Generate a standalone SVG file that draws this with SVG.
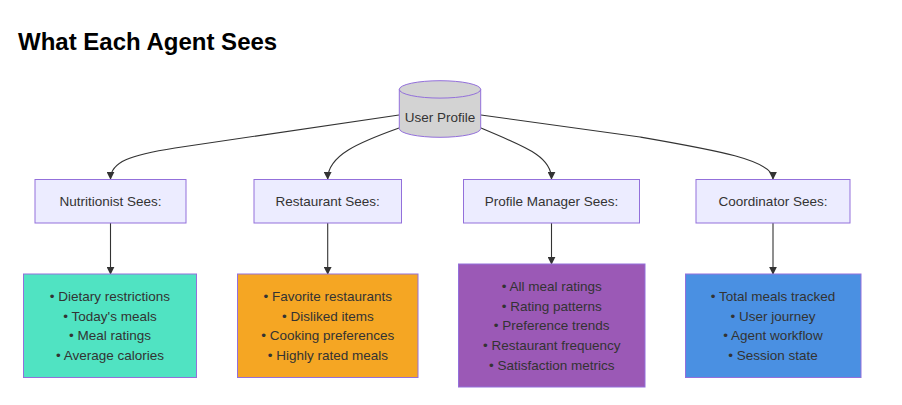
<svg xmlns="http://www.w3.org/2000/svg" width="902" height="405" viewBox="0 0 902 405">
<style>
.t{font-family:"Liberation Sans",Arial,sans-serif;font-size:13.5px;fill:#333;text-anchor:middle;dominant-baseline:central}
.title{font-family:"Liberation Sans",Arial,sans-serif;font-size:24px;font-weight:bold;fill:#000}
.hdr{fill:#ECECFF;stroke:#9370DB;stroke-width:1}
.det{stroke:#9370DB;stroke-width:1}
.e{fill:none;stroke:#333;stroke-width:1.1;marker-end:url(#arr)}
</style>
<defs>
<marker id="arr" viewBox="0 0 10 10" refX="9" refY="5" markerWidth="8" markerHeight="8" markerUnits="userSpaceOnUse" orient="auto">
<path d="M0,0 L10,5 L0,10 z" fill="#333"/>
</marker>
</defs>
<rect width="902" height="405" fill="#fff"/>
<text class="title" x="18" y="50">What Each Agent Sees</text>

<g id="connectors">
<path class="e" d="M399,115 L175,148 C130,155 110.5,162 110.5,179"/>
<path class="e" d="M399,128 C360,142 327.7,155 327.7,179"/>
<path class="e" d="M481,128 C522,146 551.5,155 551.5,179"/>
<path class="e" d="M481,115 L640,137 C715,150 773,160 773,179"/>
<path class="e" d="M110.5,223 L110.5,274"/>
<path class="e" d="M327.7,223 L327.7,274"/>
<path class="e" d="M551.5,223 L551.5,264"/>
<path class="e" d="M773,223 L773,274"/>
</g>

<g id="userProfile">
<path d="M399.3,89.4 A40.7,8.7 0 0 1 480.7,89.4 L480.7,128.6 A40.7,8.7 0 0 1 399.3,128.6 Z" fill="#d3d3d3" stroke="#9370DB" stroke-width="1"/>
<path d="M399.3,89.4 A40.7,8.7 0 0 0 480.7,89.4" fill="none" stroke="#9370DB" stroke-width="1"/>
<text class="t" x="440" y="117">User Profile</text>
</g>

<g id="nutritionist">
<rect class="hdr" x="35" y="179.5" width="151" height="43.5"/>
<text class="t" x="110.5" y="201.5">Nutritionist Sees:</text>
</g>
<g id="restaurant">
<rect class="hdr" x="254" y="179.5" width="147.5" height="43.5"/>
<text class="t" x="327.7" y="201.5">Restaurant Sees:</text>
</g>
<g id="profileManager">
<rect class="hdr" x="463.5" y="179.5" width="176" height="43.5"/>
<text class="t" x="551.5" y="201.5">Profile Manager Sees:</text>
</g>
<g id="coordinator">
<rect class="hdr" x="696" y="179.5" width="154" height="43.5"/>
<text class="t" x="773" y="201.5">Coordinator Sees:</text>
</g>

<g id="nutritionistData">
<rect class="det" x="23.5" y="274" width="173" height="103.5" fill="#50E3C2"/>
<text class="t" x="110" y="296.5">• Dietary restrictions</text>
<text class="t" x="110" y="316">• Today's meals</text>
<text class="t" x="110" y="335.5">• Meal ratings</text>
<text class="t" x="110" y="355">• Average calories</text>
</g>
<g id="restaurantData">
<rect class="det" x="237.5" y="274" width="180.5" height="103.5" fill="#F5A623"/>
<text class="t" x="327.8" y="296.5">• Favorite restaurants</text>
<text class="t" x="327.8" y="316">• Disliked items</text>
<text class="t" x="327.8" y="335.5">• Cooking preferences</text>
<text class="t" x="327.8" y="355">• Highly rated meals</text>
</g>
<g id="profileManagerData">
<rect class="det" x="458.5" y="264" width="186.5" height="123" fill="#9B59B6"/>
<text class="t" x="551.7" y="286.5">• All meal ratings</text>
<text class="t" x="551.7" y="306">• Rating patterns</text>
<text class="t" x="551.7" y="325.5">• Preference trends</text>
<text class="t" x="551.7" y="345.5">• Restaurant frequency</text>
<text class="t" x="551.7" y="365.5">• Satisfaction metrics</text>
</g>
<g id="coordinatorData">
<rect class="det" x="685.5" y="274" width="175.5" height="103.5" fill="#4A90E2"/>
<text class="t" x="773" y="296.5">• Total meals tracked</text>
<text class="t" x="773" y="316">• User journey</text>
<text class="t" x="773" y="335.5">• Agent workflow</text>
<text class="t" x="773" y="355">• Session state</text>
</g>
</svg>
